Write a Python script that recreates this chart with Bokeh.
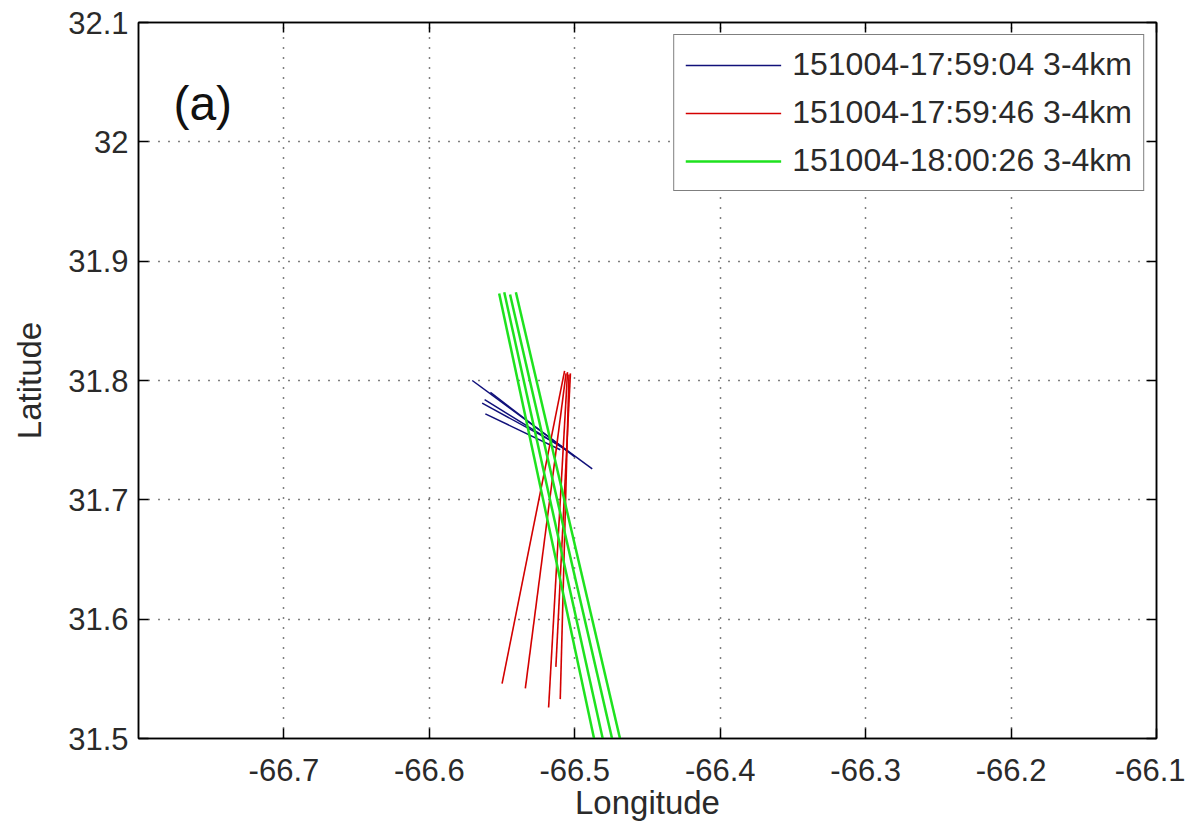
from bokeh.plotting import figure
from bokeh.models import FixedTicker, LinearAxis, CustomJSTickFormatter, Range1d
from bokeh.core.properties import value
from bokeh.embed import file_html
from bokeh.resources import INLINE

# ---- data ----
x_ticks = [-66.7, -66.6, -66.5, -66.4, -66.3, -66.2, -66.1]
y_ticks = [31.5, 31.6, 31.7, 31.8, 31.9, 32.0, 32.1]

# track 1: 151004-17:59:04 (blue)
blue_lon = [[-66.5705, -66.488], [-66.558, -66.500], [-66.562, -66.505],
            [-66.5637, -66.508], [-66.5615, -66.510]]
blue_lat = [[31.800, 31.726], [31.790, 31.736], [31.784, 31.741],
            [31.781, 31.744], [31.772, 31.742]]

# track 2: 151004-17:59:46 (red)
red_lon = [[-66.550, -66.507], [-66.534, -66.506], [-66.518, -66.505],
           [-66.510, -66.504], [-66.513, -66.503]]
red_lat = [[31.546, 31.808], [31.542, 31.806], [31.526, 31.807],
           [31.533, 31.805], [31.560, 31.806]]

# track 3: 151004-18:00:26 (green)
green_lon = [[-66.5520, -66.4850], [-66.5485, -66.4790],
             [-66.5445, -66.4725], [-66.5405, -66.4670]]
green_lat = [[31.873, 31.49], [31.874, 31.49], [31.872, 31.49], [31.874, 31.49]]

labels = ["151004-17:59:04 3-4km", "151004-17:59:46 3-4km", "151004-18:00:26 3-4km"]
colors = ["#10107a", "#d40000", "#1ee21e"]

FONT = "Liberation Sans"

p = figure(width=1185, height=829, output_backend="svg", toolbar_location=None,
           x_range=Range1d(-66.8, -66.1), y_range=Range1d(31.5, 32.1),
           min_border_left=138, min_border_right=29, min_border_top=22,
           min_border_bottom=91)
p.background_fill_color = "white"
p.border_fill_color = "white"
p.outline_line_color = "black"
p.outline_line_width = 1.5

fmt = CustomJSTickFormatter(code="return String(Number(tick.toFixed(1)));")
blank = CustomJSTickFormatter(code="return '';")

def style_axis(ax, ticks, formatter):
    ax.ticker = FixedTicker(ticks=ticks)
    ax.formatter = formatter
    ax.axis_line_color = "black"
    ax.axis_line_width = 1.5
    ax.major_tick_line_color = "black"
    ax.major_tick_line_width = 1.5
    ax.major_tick_in = 10
    ax.major_tick_out = 0
    ax.minor_tick_line_color = None
    ax.major_label_text_font = FONT
    ax.major_label_text_font_size = "31px"
    ax.major_label_text_color = "#2a2a2a"
    ax.axis_label_text_font = FONT
    ax.axis_label_text_font_size = "33px"
    ax.axis_label_text_font_style = "normal"
    ax.axis_label_text_color = "#2a2a2a"

style_axis(p.xaxis[0], x_ticks, fmt)
style_axis(p.yaxis[0], y_ticks, fmt)
p.xaxis[0].axis_label = "Longitude"
p.yaxis[0].axis_label = "Latitude"
p.xaxis[0].major_label_standoff = 20
p.xaxis[0].axis_label_standoff = 0
p.yaxis[0].major_label_standoff = 10
p.yaxis[0].axis_label_standoff = 17

top_ax = LinearAxis()
right_ax = LinearAxis()
style_axis(top_ax, x_ticks, blank)
style_axis(right_ax, y_ticks, blank)
top_ax.major_label_standoff = 0
right_ax.major_label_standoff = 0
p.add_layout(top_ax, "above")
p.add_layout(right_ax, "right")

for g, t in ((p.xgrid[0], x_ticks), (p.ygrid[0], y_ticks)):
    g.ticker = FixedTicker(ticks=t)
    g.grid_line_color = "black"
    g.grid_line_width = 1.5
    g.grid_line_dash = "1 9"

p.multi_line(blue_lon, blue_lat, line_color=colors[0], line_width=1.5, legend_label=labels[0])
p.multi_line(red_lon, red_lat, line_color=colors[1], line_width=1.6, legend_label=labels[1])
p.multi_line(green_lon, green_lat, line_color=colors[2], line_width=2.5, legend_label=labels[2])

p.text(x=[-66.776], y=[32.032], text=["(a)"], text_font=value(FONT),
       text_font_size="48px", text_baseline="middle", text_align="left",
       text_color="#111111")

lg = p.legend[0]
lg.location = "top_right"
lg.margin = 12
lg.padding = 11
lg.spacing = 11
lg.glyph_width = 96
lg.glyph_height = 26
lg.label_height = 26
lg.label_standoff = 11
lg.label_text_font = FONT
lg.label_text_font_size = "32px"
lg.label_text_color = "#2a2a2a"
lg.border_line_color = "black"
lg.border_line_width = 1.5
lg.background_fill_color = "white"
lg.background_fill_alpha = 1.0

open("out.html", "w").write(file_html(p, INLINE))
